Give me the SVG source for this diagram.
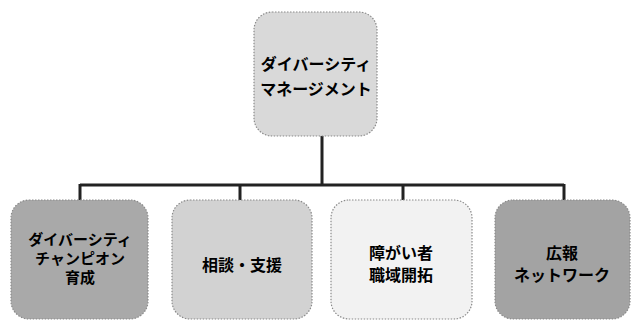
<svg xmlns="http://www.w3.org/2000/svg" width="635" height="322" viewBox="0 0 635 322">
<style>
.box{stroke:#8a8a8a;stroke-width:1.2;stroke-dasharray:1.5 1.5}
.t{font-family:"Noto Sans CJK JP","Noto Sans",sans-serif;font-weight:bold;font-size:16px;fill:#000;text-anchor:middle}
.s{font-size:15px}
.c{stroke:#222;stroke-width:3;fill:none}
</style>
<rect width="635" height="322" fill="#fff"/>
<g id="connectors">
<path class="c" d="M322 136V185M80 185H564M80 184V200M240 184V200M403 184V200M564 184V200"/>
</g>
<g id="top">
<rect class="box" x="254" y="12" width="123" height="124" rx="18" fill="#d9d9d9"/>
<text class="t" x="316" y="70">ダイバーシティ</text>
<text class="t" x="316" y="95">マネージメント</text>
</g>
<g id="n1">
<rect class="box" x="11" y="200" width="137" height="119" rx="18" fill="#a9a9a9"/>
<text class="t s" x="80" y="245">ダイバーシティ</text>
<text class="t s" x="80" y="264">チャンピオン</text>
<text class="t s" x="80" y="283">育成</text>
</g>
<g id="n2">
<rect class="box" x="172" y="200" width="140" height="119" rx="18" fill="#d2d2d2"/>
<text class="t" x="242" y="271">相談・支援</text>
</g>
<g id="n3">
<rect class="box" x="331" y="200" width="141" height="119" rx="18" fill="#f2f2f2"/>
<text class="t" x="401" y="259">障がい者</text>
<text class="t" x="401" y="281">職域開拓</text>
</g>
<g id="n4">
<rect class="box" x="495" y="200" width="135" height="119" rx="18" fill="#a3a3a3"/>
<text class="t" x="562" y="259">広報</text>
<text class="t" x="562" y="281">ネットワーク</text>
</g>
</svg>
